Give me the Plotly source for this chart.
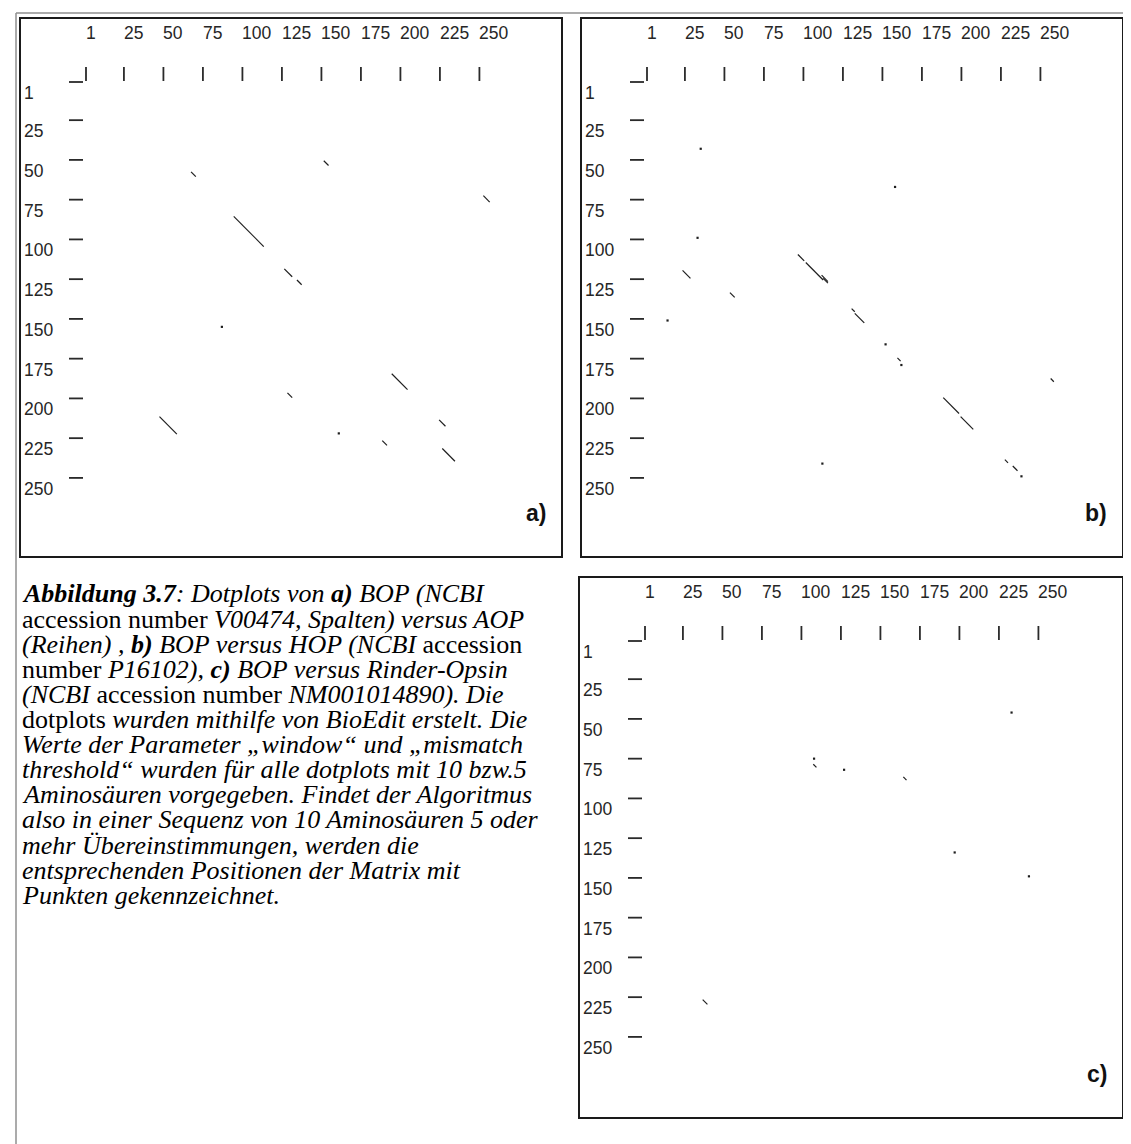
import plotly.graph_objects as go

# ---------------- data ----------------
tick_values = [1, 25, 50, 75, 100, 125, 150, 175, 200, 225, 250]
tick_labels = ["1", "25", "50", "75", "100", "125", "150", "175", "200", "225", "250"]

# diagonal runs: start column (BOP residue), start row, run length
a_seg_col = [68, 152, 253, 95, 127, 135, 195, 129, 48, 189, 225, 227]
a_seg_row = [58, 51, 73, 86, 119, 126, 185, 197, 212, 227, 214, 232]
a_seg_len = [3, 3, 4, 19, 5, 3, 10, 3, 11, 3, 4, 8]
a_dot_col = [87, 161]
a_dot_row = [155, 222]

b_seg_col = [24, 97, 102, 113, 112, 54, 131, 133, 160, 257, 189, 200, 228, 233]
b_seg_row = [120, 110, 115, 125, 123, 134, 144, 147, 175, 188, 200, 212, 239, 243]
b_seg_len = [5, 4, 11, 3, 4, 3, 2, 6, 2, 2, 10, 8, 2, 3]
b_dot_col = [35, 158, 33, 14, 152, 162, 112, 238]
b_dot_row = [43, 67, 99, 151, 166, 179, 241, 249]

c_seg_col = [108, 165, 38]
c_seg_row = [79, 87, 227]
c_seg_len = [2, 2, 3]
c_dot_col = [233, 108, 127, 197, 244]
c_dot_row = [46, 75, 82, 134, 149]

panel_names = ["a)", "b)", "c)"]

caption_lines = [
    "<b><i>Abbildung 3.7</i></b><i>: Dotplots von </i><b><i>a)</i></b><i> BOP (NCBI</i>",
    "accession number <i>V00474, Spalten) versus AOP</i>",
    "<i>(Reihen) , </i><b><i>b)</i></b><i> BOP versus HOP (NCBI</i> accession",
    "number <i>P16102), </i><b><i>c)</i></b><i> BOP versus Rinder-Opsin</i>",
    "<i>(NCBI</i> accession number <i>NM001014890). Die</i>",
    "dotplots <i>wurden mithilfe von BioEdit erstelt. Die</i>",
    "<i>Werte der Parameter \u201ewindow\u201c und \u201emismatch</i>",
    "<i>threshold\u201c wurden f\u00fcr alle dotplots mit 10 bzw.5</i>",
    "<i>Aminos\u00e4uren vorgegeben. Findet der Algoritmus</i>",
    "<i>also in einer Sequenz von 10 Aminos\u00e4uren 5 oder</i>",
    "<i>mehr \u00dcbereinstimmungen, werden die</i>",
    "<i>entsprechenden Positionen der Matrix mit</i>",
    "<i>Punkten gekennzeichnet.</i>",
]

# ---------------- layout geometry (pixels) ----------------
W, H = 1131, 1144
PANELS = [(12, 10, 542, 539), (573, 10, 542, 539), (571, 569, 544, 541)]
X0, SX = 66.0, 1.58   # local px of residue 1, px per residue (columns)
Y0, SY = 64.0, 1.59   # local px of residue 1, px per residue (rows)
INK = "#1e1e1e"
LABEL_FONT = dict(family="Liberation Sans, Arial", size=17.5, color="#262626")


def dx(local):
    return 1 + (local - X0) / SX


def dy(local):
    return 1 + (local - Y0) / SY


segs = [(a_seg_col, a_seg_row, a_seg_len, a_dot_col, a_dot_row),
        (b_seg_col, b_seg_row, b_seg_len, b_dot_col, b_dot_row),
        (c_seg_col, c_seg_row, c_seg_len, c_dot_col, c_dot_row)]

fig = go.Figure()
annotations = []
shapes = []

for i, ((left, top, w, h), (sc, sr, sl, dc, dr)) in enumerate(zip(PANELS, segs)):
    sfx = "" if i == 0 else str(i + 1)
    xa, ya = "x" + sfx, "y" + sfx
    fig.update_layout(**{
        "xaxis" + sfx: dict(domain=[left / W, (left + w) / W], range=[dx(0), dx(w)],
                            visible=False, fixedrange=True, anchor=ya),
        "yaxis" + sfx: dict(domain=[1 - (top + h) / H, 1 - top / H], range=[dy(h), dy(0)],
                            visible=False, fixedrange=True, anchor=xa),
    })

    # dotplot diagonal runs
    lx, ly = [], []
    for c, r, n in zip(sc, sr, sl):
        lx += [c - 0.5, c + n - 0.5, None]
        ly += [r - 0.5, r + n - 0.5, None]
    fig.add_trace(go.Scatter(x=lx, y=ly, mode="lines", xaxis=xa, yaxis=ya,
                             line=dict(color=INK, width=1.2), hoverinfo="skip", showlegend=False))
    fig.add_trace(go.Scatter(x=dc, y=dr, mode="markers", xaxis=xa, yaxis=ya,
                             marker=dict(symbol="square", size=2.2, color=INK, line=dict(width=0)),
                             hoverinfo="skip", showlegend=False))

    # tick marks: "|" for columns, "-" for rows
    tx, ty = [], []
    for t in tick_values:
        tx += [t, t, None]
        ty += [dy(49), dy(63), None]
    fig.add_trace(go.Scatter(x=tx, y=ty, mode="lines", xaxis=xa, yaxis=ya,
                             line=dict(color="#2a2a2a", width=1.8), hoverinfo="skip", showlegend=False))
    hx, hy = [], []
    for t in tick_values:
        hx += [dx(49), dx(63), None]
        hy += [t, t, None]
    fig.add_trace(go.Scatter(x=hx, y=hy, mode="lines", xaxis=xa, yaxis=ya,
                             line=dict(color="#2a2a2a", width=1.8), hoverinfo="skip", showlegend=False))

    # tick labels
    for t, lab in zip(tick_values, tick_labels):
        annotations.append(dict(x=t, y=dy(15), xref=xa, yref=ya, text=lab, showarrow=False,
                                xanchor="left", yanchor="middle", font=LABEL_FONT, borderpad=0, xshift=-1))
        annotations.append(dict(x=dx(3), y=t + 11 / SY, xref=xa, yref=ya, text=lab, showarrow=False,
                                xanchor="left", yanchor="middle", font=LABEL_FONT, borderpad=0))

    # panel letter
    annotations.append(dict(x=dx(w - 14), y=dy(h - 44), xref=xa, yref=ya, text="<b>" + panel_names[i] + "</b>",
                            showarrow=False, xanchor="right", yanchor="middle",
                            font=dict(family="Liberation Sans, Arial", size=23, color="#111111")))

    # panel frame
    shapes.append(dict(type="rect", xref="paper", yref="paper",
                       x0=left / W, x1=(left + w) / W, y0=1 - (top + h) / H, y1=1 - top / H,
                       line=dict(color="#1a1a1a", width=2), fillcolor="rgba(0,0,0,0)", layer="above"))

# outer page lines (light grey)
shapes.append(dict(type="line", xref="paper", yref="paper", x0=8 / W, x1=1, y0=1 - 5 / H, y1=1 - 5 / H,
                   line=dict(color="#8f8f8f", width=1.5)))
shapes.append(dict(type="line", xref="paper", yref="paper", x0=8 / W, x1=8 / W, y0=0, y1=1 - 5 / H,
                   line=dict(color="#8f8f8f", width=1.5)))

# caption
CAP_TOP, CAP_STEP = 586, 25.1
for k, line in enumerate(caption_lines):
    annotations.append(dict(x=13 / W, y=1 - (CAP_TOP + k * CAP_STEP) / H, xref="paper", yref="paper",
                            text=line, showarrow=False, xanchor="left", yanchor="middle", align="left",
                            font=dict(family="Liberation Serif, Times New Roman, serif", size=26, color="#000000"),
                            borderpad=0))

fig.update_layout(width=W, height=H, margin=dict(l=0, r=0, t=0, b=0),
                  paper_bgcolor="white", plot_bgcolor="white",
                  annotations=annotations, shapes=shapes, showlegend=False)

fig.write_html("out.html")
